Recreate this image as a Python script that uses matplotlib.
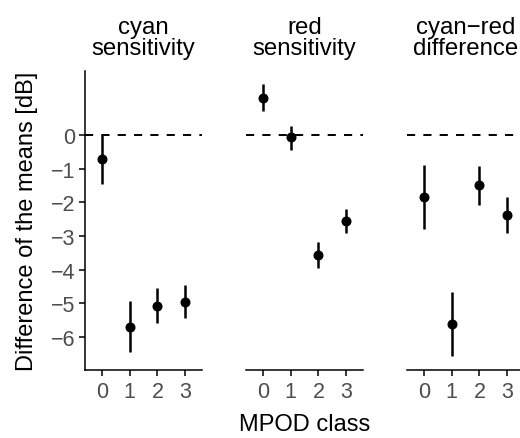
import matplotlib
matplotlib.use("Agg")
import matplotlib.pyplot as plt

plt.rcParams['font.family'] = ['Liberation Sans', 'DejaVu Sans']

classes = [0, 1, 2, 3]
panel_titles = ["cyan\nsensitivity", "red\nsensitivity", "cyan\u2212red\ndifference"]

cyan_mean = [-0.72, -5.69, -5.07, -4.95]
cyan_low = [-1.47, -6.45, -5.57, -5.45]
cyan_high = [0.0, -4.94, -4.54, -4.45]

red_mean = [1.10, -0.07, -3.55, -2.56]
red_low = [0.70, -0.45, -3.96, -2.91]
red_high = [1.51, 0.28, -3.17, -2.20]

diff_mean = [-1.83, -5.61, -1.49, -2.38]
diff_low = [-2.79, -6.55, -2.08, -2.91]
diff_high = [-0.88, -4.65, -0.91, -1.85]

series = [(cyan_mean, cyan_low, cyan_high),
          (red_mean, red_low, red_high),
          (diff_mean, diff_low, diff_high)]

yticks = [0, -1, -2, -3, -4, -5, -6]
ytick_labels = ["0", "\u22121", "\u22122", "\u22123", "\u22124", "\u22125", "\u22126"]

W, H = 520, 439
fig = plt.figure(figsize=(W / 100, H / 100), dpi=100)

lefts = [85, 246, 407]
pw = 117
top, bottom = 72, 371
gray = "#4D4D4D"

for i, (m, lo, hi) in enumerate(series):
    ax = fig.add_axes([lefts[i] / W, (H - bottom) / H, pw / W, (bottom - top) / H])
    ax.set_xlim(-0.6, 3.6)
    ax.set_ylim(-6.98, 1.9)
    ax.axhline(0, color="black", lw=1.4, ls=(0, (4.2, 4.2)), zorder=1)
    ax.vlines(classes, lo, hi, color="black", lw=1.8, zorder=2)
    ax.plot(classes, m, "o", color="black", ms=6.2, zorder=3)
    for s in ["top", "right"]:
        ax.spines[s].set_visible(False)
    ax.spines["bottom"].set_linewidth(1.1)
    ax.set_xticks(classes)
    ax.set_xticklabels([str(c) for c in classes])
    ax.tick_params(axis="x", length=4, width=1.1, colors="black", labelcolor=gray,
                   labelsize=15.5, pad=4)
    if i == 0:
        ax.spines["left"].set_linewidth(1.1)
        ax.set_yticks(yticks)
        ax.set_yticklabels(ytick_labels)
        ax.tick_params(axis="y", length=4, width=1.1, colors="black", labelcolor=gray,
                       labelsize=15.5, pad=3)
        ax.set_ylabel("Difference of the means [dB]", fontsize=17, labelpad=9)
    else:
        ax.spines["left"].set_visible(False)
        ax.set_yticks([])
    ax.text(0.5, 1.04, panel_titles[i], transform=ax.transAxes, ha="center", va="bottom",
            fontsize=17.3, linespacing=0.93)

fig.text((85 + 524) / 2 / W, 1 - 425 / H, "MPOD class", ha="center", va="center", fontsize=17)

fig.savefig("out.png", dpi=100)
